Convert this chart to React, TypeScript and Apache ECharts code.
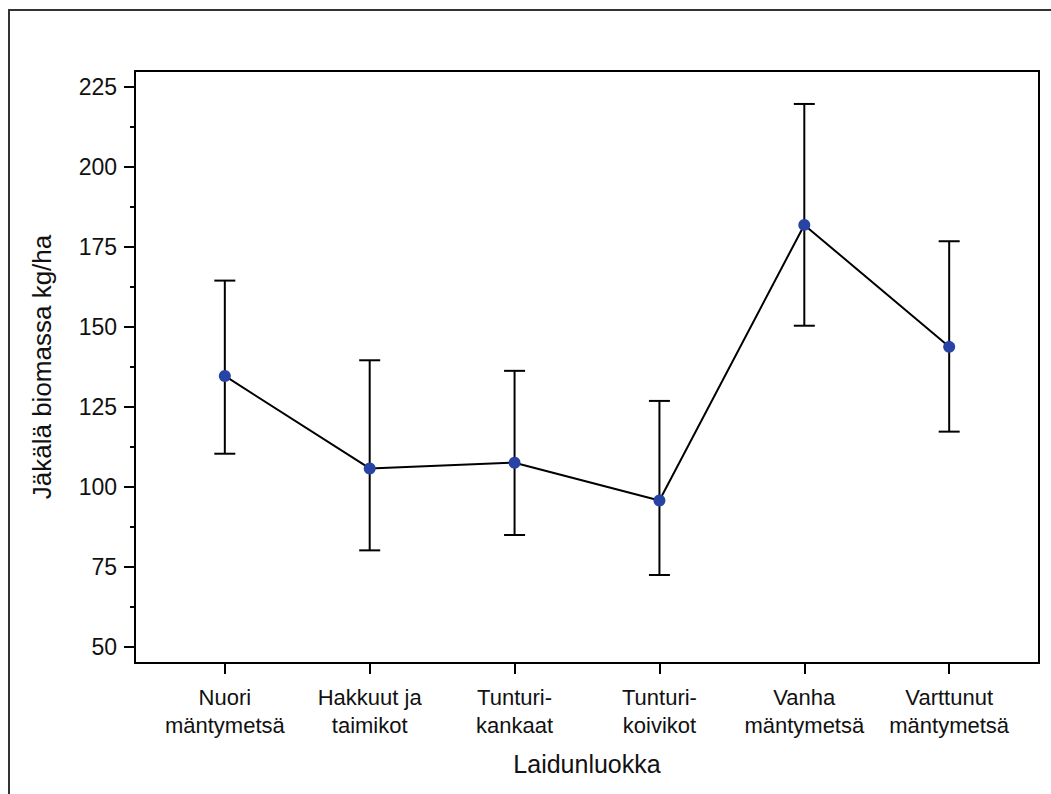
import React, { useEffect, useRef } from "react";
import * as echarts from "echarts";

const categories = [
  "Nuori\nmäntymetsä",
  "Hakkuut ja\ntaimikot",
  "Tunturi-\nkankaat",
  "Tunturi-\nkoivikot",
  "Vanha\nmäntymetsä",
  "Varttunut\nmäntymetsä",
];
const means = [134.7, 105.8, 107.6, 95.8, 181.9, 143.8];
const lowers = [110.4, 80.2, 85.0, 72.5, 150.4, 117.3];
const uppers = [164.5, 139.6, 136.3, 126.9, 219.7, 176.8];
const yTicks = [50, 75, 100, 125, 150, 175, 200, 225];
const yMinorTicks = [62.5, 87.5, 112.5, 137.5, 162.5, 187.5, 212.5];
const xTicks = [0, 1, 2, 3, 4, 5];

const FONT = "'Liberation Sans', Arial, sans-serif";

export default function App() {
  const ref = useRef<HTMLDivElement>(null);
  useEffect(() => {
    if (!ref.current) return;
    const chart = echarts.init(ref.current, null, { renderer: "svg" });
    const lineData = means.map((m, i) => [i, m]);
    const errData = means.map((_, i) => [i, lowers[i], uppers[i]]);
    chart.setOption({
      animation: false,
      backgroundColor: "#fff",
      textStyle: { fontFamily: FONT },
      graphic: [
        {
          type: "rect",
          shape: { x: 9, y: 10, width: 1200, height: 1000 },
          style: { fill: "none", stroke: "#333", lineWidth: 2 },
          silent: true,
        },
      ],
      grid: {
        left: 135,
        top: 71,
        right: 12,
        bottom: 131,
        show: true,
        borderColor: "#000",
        borderWidth: 2,
        backgroundColor: "transparent",
      },
      xAxis: {
        type: "value",
        min: -0.62,
        max: 5.62,
        splitLine: { show: false },
        axisLine: { show: true, onZero: false, lineStyle: { color: "#000", width: 2 } },
        axisTick: {
          show: true,
          customValues: xTicks,
          length: 11,
          lineStyle: { color: "#000", width: 2 },
        },
        axisLabel: {
          customValues: xTicks,
          formatter: (v: number) => categories[Math.round(v)],
          color: "#111",
          fontSize: 22,
          lineHeight: 28,
          margin: 20,
          fontFamily: FONT,
        },
        name: "Laidunluokka",
        nameLocation: "middle",
        nameGap: 88,
        nameTextStyle: { fontSize: 25, color: "#111", fontFamily: FONT },
      },
      yAxis: [
        {
          type: "value",
          min: 45,
          max: 230,
          splitLine: { show: false },
          axisLine: { show: true, onZero: false, lineStyle: { color: "#000", width: 2 } },
          axisTick: {
            show: true,
            customValues: yTicks,
            length: 11,
            lineStyle: { color: "#000", width: 2 },
          },
          axisLabel: {
            customValues: yTicks,
            color: "#111",
            fontSize: 23,
            margin: 18,
            fontFamily: FONT,
          },
          name: "Jäkälä biomassa kg/ha",
          nameLocation: "middle",
          nameGap: 80,
          nameTextStyle: { fontSize: 26, color: "#111", fontFamily: FONT },
        },
        {
          type: "value",
          min: 45,
          max: 230,
          position: "left",
          splitLine: { show: false },
          axisLine: { show: false, onZero: false },
          axisTick: {
            show: true,
            customValues: yMinorTicks,
            length: 5,
            lineStyle: { color: "#000", width: 2 },
          },
          axisLabel: { show: false },
        },
      ],
      series: [
        {
          type: "custom",
          z: 2,
          encode: { x: 0, y: [1, 2] },
          data: errData,
          renderItem: (params: any, api: any) => {
            const x = api.value(0);
            const lo = api.coord([x, api.value(1)]);
            const hi = api.coord([x, api.value(2)]);
            const hw = 10.5;
            const style = { stroke: "#000", lineWidth: 2 };
            return {
              type: "group",
              children: [
                { type: "line", shape: { x1: lo[0], y1: lo[1], x2: hi[0], y2: hi[1] }, style },
                { type: "line", shape: { x1: hi[0] - hw, y1: hi[1], x2: hi[0] + hw, y2: hi[1] }, style },
                { type: "line", shape: { x1: lo[0] - hw, y1: lo[1], x2: lo[0] + hw, y2: lo[1] }, style },
              ],
            };
          },
        },
        {
          type: "line",
          z: 3,
          data: lineData,
          symbol: "circle",
          symbolSize: 12,
          itemStyle: { color: "#2743a3" },
          lineStyle: { color: "#000", width: 2 },
        },
      ],
    });
    return () => chart.dispose();
  }, []);
  return (
    <div
      ref={ref}
      style={{ position: "fixed", left: 0, top: 0, width: 1051, height: 794 }}
    />
  );
}
